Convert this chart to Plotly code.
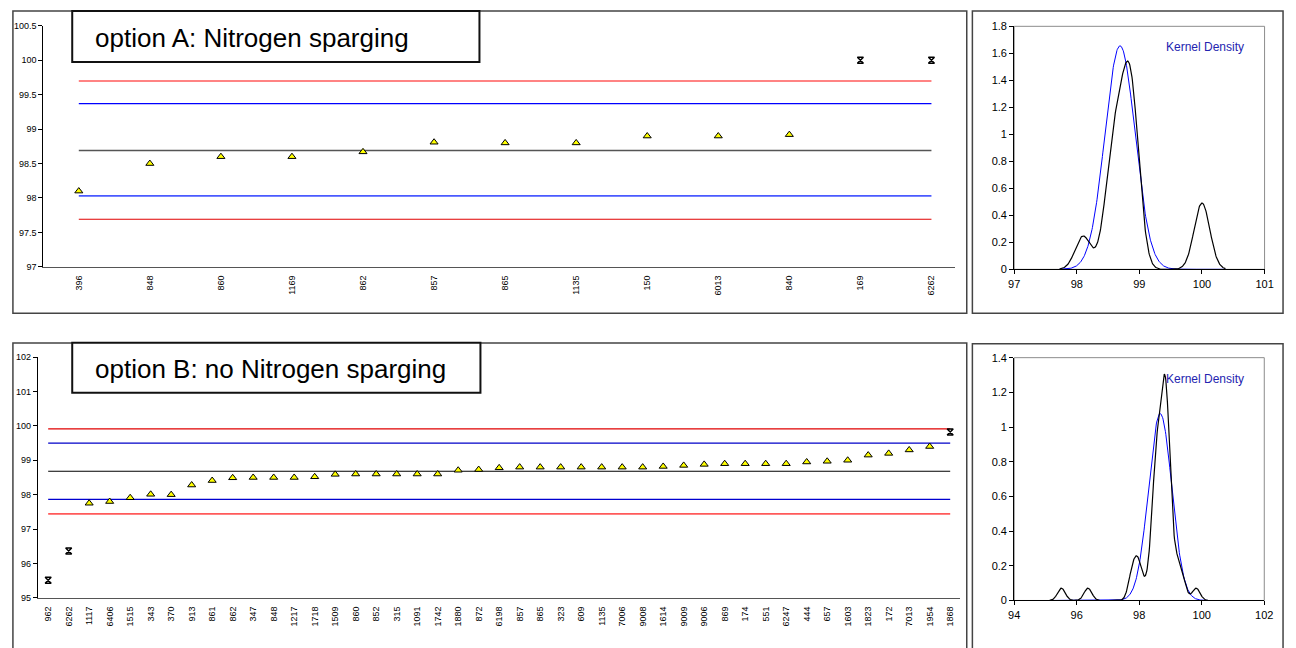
import numpy as np
import plotly.graph_objects as go

W, H = 1296, 648

# ---------------- data: option A ----------------
a_ids = ["396", "848", "860", "1169", "862", "857", "865", "1135", "150", "6013", "840", "169", "6262"]
a_vals = [98.1, 98.5, 98.6, 98.6, 98.67, 98.81, 98.8, 98.8, 98.9, 98.9, 98.92, 100.0, 100.0]
a_outliers = ["169", "6262"]
a_limits = [99.7, 99.37, 98.69, 98.03, 97.69]

# ---------------- data: option B ----------------
b_ids = ["962", "6262", "1117", "6406", "1515", "343", "370", "913", "861", "862",
         "347", "848", "1217", "1718", "1509", "860", "852", "315", "1091", "1742",
         "1880", "872", "6198", "857", "865", "323", "609", "1135", "7006", "9008",
         "1614", "9009", "9006", "869", "174", "551", "6247", "444", "657", "1603",
         "1823", "172", "7013", "1954", "1868"]
b_vals = [95.51, 96.36, 97.75, 97.8, 97.91, 98.01, 98.0, 98.28, 98.41, 98.49,
          98.5, 98.5, 98.5, 98.52, 98.59, 98.6, 98.6, 98.6, 98.6, 98.6,
          98.71, 98.73, 98.78, 98.8, 98.8, 98.8, 98.8, 98.8, 98.8, 98.8,
          98.82, 98.85, 98.88, 98.9, 98.9, 98.9, 98.9, 98.95, 98.97, 99.0,
          99.15, 99.2, 99.3, 99.4, 99.82]
b_outliers = ["962", "6262", "1868"]
b_limits = [99.91, 99.5, 98.68, 97.86, 97.44]

bandwidth = 0.125

def px(x):
    return x / W

def py(y):
    return 1 - y / H

def kde(vals, grid, h):
    v = np.asarray(vals)[None, :]
    g = grid[:, None]
    return np.exp(-0.5 * ((g - v) / h) ** 2).sum(axis=1) / (len(vals) * h * np.sqrt(2 * np.pi))

def normal_fit(vals, grid):
    m = np.mean(vals)
    s = np.std(vals, ddof=1)
    return np.exp(-0.5 * ((grid - m) / s) ** 2) / (s * np.sqrt(2 * np.pi))

fig = go.Figure()

def add_control_chart(ids, vals, outliers, limits, colors, widths, xa, ya):
    first, last = ids[0], ids[-1]
    for lv, c, w in zip(limits, colors, widths):
        fig.add_trace(go.Scatter(x=[first, last], y=[lv, lv], mode="lines",
                                 line=dict(color=c, width=w), xaxis=xa, yaxis=ya,
                                 showlegend=False, hoverinfo="skip"))
    nx = [i for i in ids if i not in outliers]
    ny = [v for i, v in zip(ids, vals) if i not in outliers]
    ox = [i for i in ids if i in outliers]
    oy = [v for i, v in zip(ids, vals) if i in outliers]
    fig.add_trace(go.Scatter(x=nx, y=ny, mode="markers", xaxis=xa, yaxis=ya, showlegend=False,
                             marker=dict(symbol="triangle-up", size=7, color="#ffff00",
                                         line=dict(color="black", width=1))))
    fig.add_trace(go.Scatter(x=ox, y=oy, mode="markers", xaxis=xa, yaxis=ya, showlegend=False,
                             marker=dict(symbol="hourglass-open", size=6, color="black",
                                         line=dict(color="black", width=1.5))))

def add_density(vals, outliers, ids, xa, ya):
    grid = np.linspace(min(vals) - 3 * bandwidth, max(vals) + 3 * bandwidth, 400)
    normal_vals = [v for i, v in zip(ids, vals) if i not in outliers]
    fig.add_trace(go.Scatter(x=grid, y=normal_fit(normal_vals, grid), mode="lines",
                             line=dict(color="#0000ff", width=1), xaxis=xa, yaxis=ya,
                             showlegend=False))
    fig.add_trace(go.Scatter(x=grid, y=kde(vals, grid, bandwidth), mode="lines",
                             line=dict(color="black", width=1.2), xaxis=xa, yaxis=ya,
                             showlegend=False))

add_control_chart(a_ids, a_vals, a_outliers, a_limits,
                  ["#ff5a5a", "#0000ff", "#555555", "#4a5aff", "#e00000"],
                  [1.6, 1.3, 1.5, 1.6, 1.1], "x", "y")
add_density(a_vals, a_outliers, a_ids, "x2", "y2")
add_control_chart(b_ids, b_vals, b_outliers, b_limits,
                  ["#e00000", "#0000c8", "#000000", "#0000d0", "#ff5a5a"],
                  [1.2, 1.3, 1.1, 1.2, 1.6], "x3", "y3")
add_density(b_vals, b_outliers, b_ids, "x4", "y4")

font_small = dict(family="Liberation Sans, Arial, sans-serif", size=9, color="black")
font_mid = dict(family="Liberation Sans, Arial, sans-serif", size=11, color="black")

left_x = dict(type="category", categoryorder="array", showgrid=False, zeroline=False,
              showline=True, linecolor="#555555", linewidth=1, ticks="", tickangle=-90,
              tickfont=font_small, ticklabelstandoff=4)
left_y = dict(showgrid=False, zeroline=False, showline=True, linecolor="black",
              linewidth=1, ticks="outside", ticklen=4, tickcolor="black",
              tickfont=font_small)
right_x = dict(showgrid=False, zeroline=False, showline=True, linecolor="black",
               linewidth=1, ticks="outside", ticklen=4, tickcolor="black",
               tickfont=font_mid)
right_y = dict(showgrid=False, zeroline=False, showline=True, linecolor="black",
               linewidth=1, ticks="outside", ticklen=4, tickcolor="black",
               tickfont=font_mid)

fig.update_layout(
    width=W, height=H, autosize=False,
    margin=dict(l=0, r=0, t=0, b=0),
    paper_bgcolor="white", plot_bgcolor="white",
    xaxis=dict(left_x, categoryarray=a_ids, domain=[px(37.7), px(960)],
               range=[-0.5, 12.33], anchor="y"),
    yaxis=dict(left_y, domain=[py(265.7), py(20.3)], range=[97, 100.5], dtick=0.5, anchor="x"),
    xaxis2=dict(right_x, domain=[px(1020), px(1273.3)], range=[97, 101], dtick=1, anchor="y2"),
    yaxis2=dict(right_y, domain=[py(268.3), py(20.7)], range=[0, 1.8], dtick=0.2, anchor="x2"),
    xaxis3=dict(left_x, categoryarray=b_ids, domain=[px(32.3), px(965)],
                range=[-0.5, 44.47], anchor="y3"),
    yaxis3=dict(left_y, domain=[py(603), py(357.7)], range=[95, 102], dtick=1, anchor="x3"),
    xaxis4=dict(right_x, domain=[px(1020), px(1273)], range=[94, 102], dtick=2, anchor="y4"),
    yaxis4=dict(right_y, domain=[py(605.7), py(358.3)], range=[0, 1.4], dtick=0.2, anchor="x4"),
)

shapes = []
# panel borders
for (x0, y0, x1, y1) in [(7, 5, 972, 313), (977.7, 5, 1292, 313),
                         (7, 343.3, 972, 660), (977.7, 344, 1292, 660)]:
    shapes.append(dict(type="rect", xref="paper", yref="paper",
                       x0=px(x0), x1=px(x1), y0=py(y1), y1=py(y0),
                       line=dict(color="#444444", width=1.5), layer="below"))
# gray plot-area boxes on density plots
for xa, ya in [("x2", "y2"), ("x4", "y4")]:
    shapes.append(dict(type="rect", xref=f"{xa} domain", yref=f"{ya} domain",
                       x0=0, x1=1, y0=0, y1=1, line=dict(color="#8c8c8c", width=1),
                       layer="below"))
# title boxes
for (x0, y0, x1, y1) in [(67, 5, 479, 57), (67, 343, 480, 394)]:
    shapes.append(dict(type="rect", xref="paper", yref="paper",
                       x0=px(x0), x1=px(x1), y0=py(y1), y1=py(y0),
                       fillcolor="white", line=dict(color="#111111", width=2), layer="above"))
fig.update_layout(shapes=shapes)

title_font = dict(family="Liberation Sans, Arial, sans-serif", size=26, color="black")
kd_font = dict(family="Liberation Sans, Arial, sans-serif", size=12, color="#2424b0")
fig.add_annotation(text="option A: Nitrogen sparging", xref="paper", yref="paper",
                   x=px(88), y=py(33), xanchor="left", yanchor="middle",
                   showarrow=False, font=title_font)
fig.add_annotation(text="option B: no Nitrogen sparging", xref="paper", yref="paper",
                   x=px(88), y=py(370), xanchor="left", yanchor="middle",
                   showarrow=False, font=title_font)
fig.add_annotation(text="Kernel Density", xref="paper", yref="paper",
                   x=px(1172), y=py(42), xanchor="left", yanchor="middle",
                   showarrow=False, font=kd_font)
fig.add_annotation(text="Kernel Density", xref="paper", yref="paper",
                   x=px(1172), y=py(380), xanchor="left", yanchor="middle",
                   showarrow=False, font=kd_font)

fig.write_html("out.html",
               post_script="document.body.style.margin='0px';document.body.style.overflow='hidden';")
